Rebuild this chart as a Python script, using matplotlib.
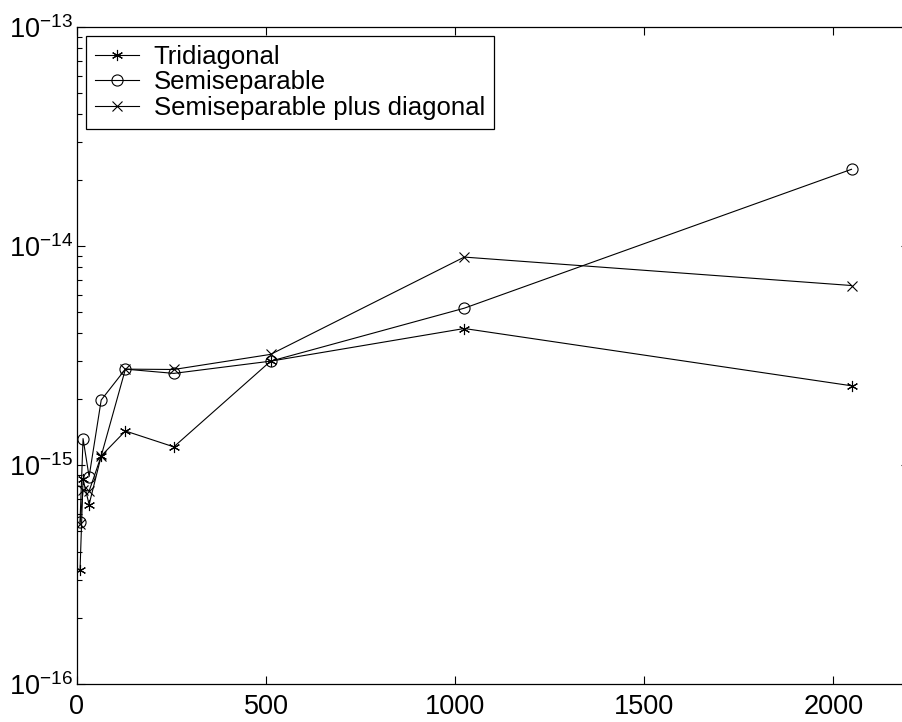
import numpy as np
import matplotlib.pyplot as plt
from matplotlib.ticker import LogLocator, NullFormatter

plt.rcParams['font.family'] = ['Liberation Sans', 'DejaVu Sans']
plt.rcParams['mathtext.default'] = 'regular'

# problem size and errors per method
n = [8, 16, 32, 64, 128, 256, 512, 1024, 2048]
tridiagonal = [3.3e-16, 8.6e-16, 6.6e-16, 1.10e-15, 1.43e-15, 1.21e-15, 2.98e-15, 4.2e-15, 2.3e-15]
semiseparable = [5.5e-16, 1.32e-15, 8.85e-16, 1.98e-15, 2.74e-15, 2.62e-15, 2.98e-15, 5.2e-15, 2.24e-14]
ss_plus_diag = [5.4e-16, 7.7e-16, 7.6e-16, 1.10e-15, 2.74e-15, 2.73e-15, 3.2e-15, 8.9e-15, 6.6e-15]

labels = ["Tridiagonal", "Semiseparable", "Semiseparable plus diagonal"]
x_ticks = [0, 500, 1000, 1500, 2000]

fig = plt.figure(figsize=(9.03, 7.22), dpi=100)
ax = fig.add_axes([77/903, 38/722, 832/903, 657/722])

lw = 0.8
ax.plot(n, tridiagonal, color='k', lw=lw, marker=(6, 2, 0), ms=8, mew=0.8, label=labels[0])
ax.plot(n, semiseparable, color='k', lw=lw, marker='o', ms=8, mfc='none', mew=0.8, label=labels[1])
ax.plot(n, ss_plus_diag, color='k', lw=lw, marker='x', ms=6.5, mew=0.8, label=labels[2])

ax.set_yscale('log')
ax.set_ylim(1e-16, 1e-13)
ax.set_xlim(0, 2200)
ax.set_xticks(x_ticks)
ax.yaxis.set_major_locator(LogLocator(base=10, numticks=10))
ax.yaxis.set_minor_locator(LogLocator(base=10, subs=np.arange(2, 10), numticks=10))
ax.yaxis.set_minor_formatter(NullFormatter())

ax.tick_params(which='both', direction='in', top=True, right=True, labelsize=19.5, width=0.8)
ax.tick_params(which='major', length=6)
ax.tick_params(which='minor', length=3.5)
ax.tick_params(axis='x', pad=7)
ax.tick_params(axis='y', pad=3)
for s in ax.spines.values():
    s.set_linewidth(0.9)

leg = ax.legend(loc='upper left', fontsize=18.5, frameon=True, fancybox=False,
                edgecolor='k', framealpha=1, borderaxespad=0.35, borderpad=0.35,
                handlelength=1.7, handletextpad=0.58, labelspacing=0.05)
leg.get_frame().set_linewidth(0.9)

fig.savefig("out.png", dpi=100)
